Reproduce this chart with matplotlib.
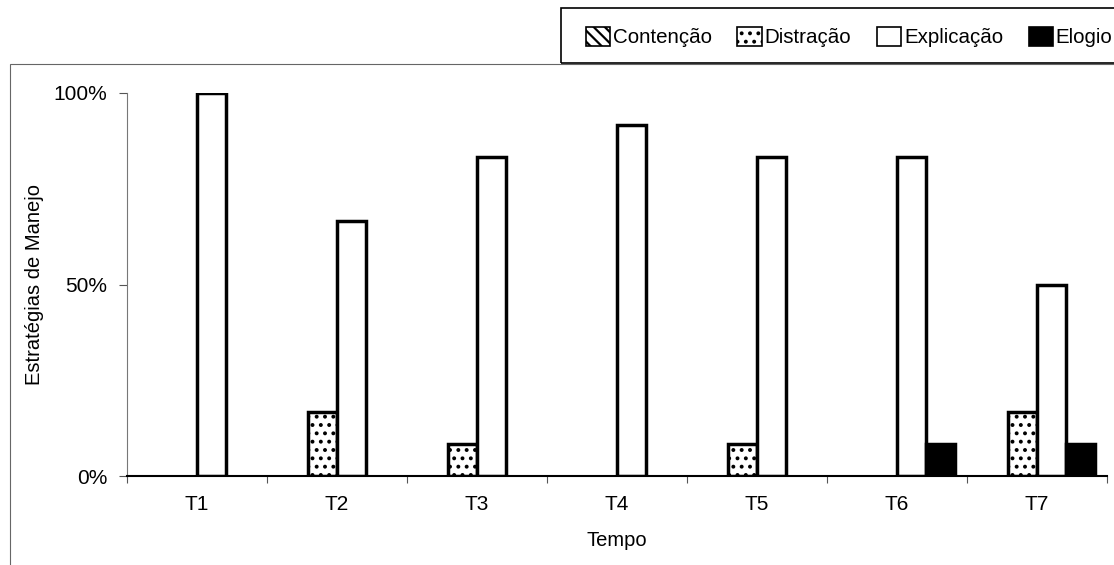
import matplotlib
matplotlib.use("Agg")
import matplotlib.pyplot as plt
from matplotlib.patches import Rectangle, Patch
import numpy as np

plt.rcParams["font.family"] = ["Liberation Sans", "DejaVu Sans"]
plt.rcParams["hatch.linewidth"] = 1.6

tempos = ["T1", "T2", "T3", "T4", "T5", "T6", "T7"]
contencao = [0, 0, 0, 0, 0, 0, 0]
distracao = [0, 16.7, 8.3, 0, 8.3, 0, 16.7]
explicacao = [100, 66.7, 83.3, 91.7, 83.3, 83.3, 50]
elogio = [0, 0, 0, 0, 0, 8.3, 8.3]

series = [
	("Contenção", contencao, dict(facecolor="white", hatch="\\\\\\")),
	("Distração", distracao, dict(facecolor="white", hatch="..")),
	("Explicação", explicacao, dict(facecolor="white")),
	("Elogio", elogio, dict(facecolor="black")),
]

W, H = 1114, 565
fig = plt.figure(figsize=(W / 100, H / 100), dpi=100)
ax = fig.add_axes([127 / W, (H - 476) / H, (1107 - 127) / W, (476 - 93) / H])

x = np.arange(len(tempos))
w = 0.207
for k, (name, vals, style) in enumerate(series):
	bars = ax.bar(x + (k - 2) * w, vals, width=w, align="edge",
		edgecolor="black", linewidth=2.5, **style)
	# Excel draws nothing for empty bars
	for b, v in zip(bars, vals):
		if v == 0:
			b.set_visible(False)

ax.set_xlim(-0.5, len(tempos) - 0.5)
ax.set_ylim(0, 100)
ax.set_yticks([0, 50, 100])
ax.set_yticklabels(["0%", "50%", "100%"], fontsize=15)
ax.set_xticks(np.arange(len(tempos) + 1) - 0.5)
ax.set_xticklabels([])
ax.set_xticks(x, minor=True)
ax.set_xticklabels(tempos, minor=True, fontsize=15)
ax.tick_params(axis="x", which="minor", length=0, pad=14)
ax.tick_params(axis="x", which="major", length=5, width=0.8, color="#555555")
ax.tick_params(axis="y", length=6, width=0.8, color="#555555", pad=8)
for s in ["top", "right"]:
	ax.spines[s].set_visible(False)
ax.spines["left"].set_linewidth(0.8)
ax.spines["left"].set_color("#777777")
ax.spines["bottom"].set_linewidth(1.5)

ax.set_xlabel("Tempo", fontsize=14.5, labelpad=12)
ax.set_ylabel("Estratégias de Manejo", fontsize=14.5, labelpad=7)

# chart frame and legend box
fig.patches.append(Rectangle((10 / W, -0.05), 1.1, (H - 64) / H + 0.05,
	transform=fig.transFigure, fill=False, edgecolor="#666666", linewidth=0.8))
fig.patches.append(Rectangle((561 / W, (H - 63) / H), 1.0, 55 / H,
	transform=fig.transFigure, fill=False, edgecolor="black", linewidth=1.2))

handles = [Patch(edgecolor="black", linewidth=1.2, label=name, **style)
	for name, vals, style in series]
fig.legend(handles=handles, loc="center left", ncol=4,
	bbox_to_anchor=(567 / W, (H - 37) / H), frameon=False, fontsize=14.8,
	handlelength=1.2, handleheight=1.1, handletextpad=0.12, columnspacing=1.25)

fig.savefig("out.png", dpi=100)
